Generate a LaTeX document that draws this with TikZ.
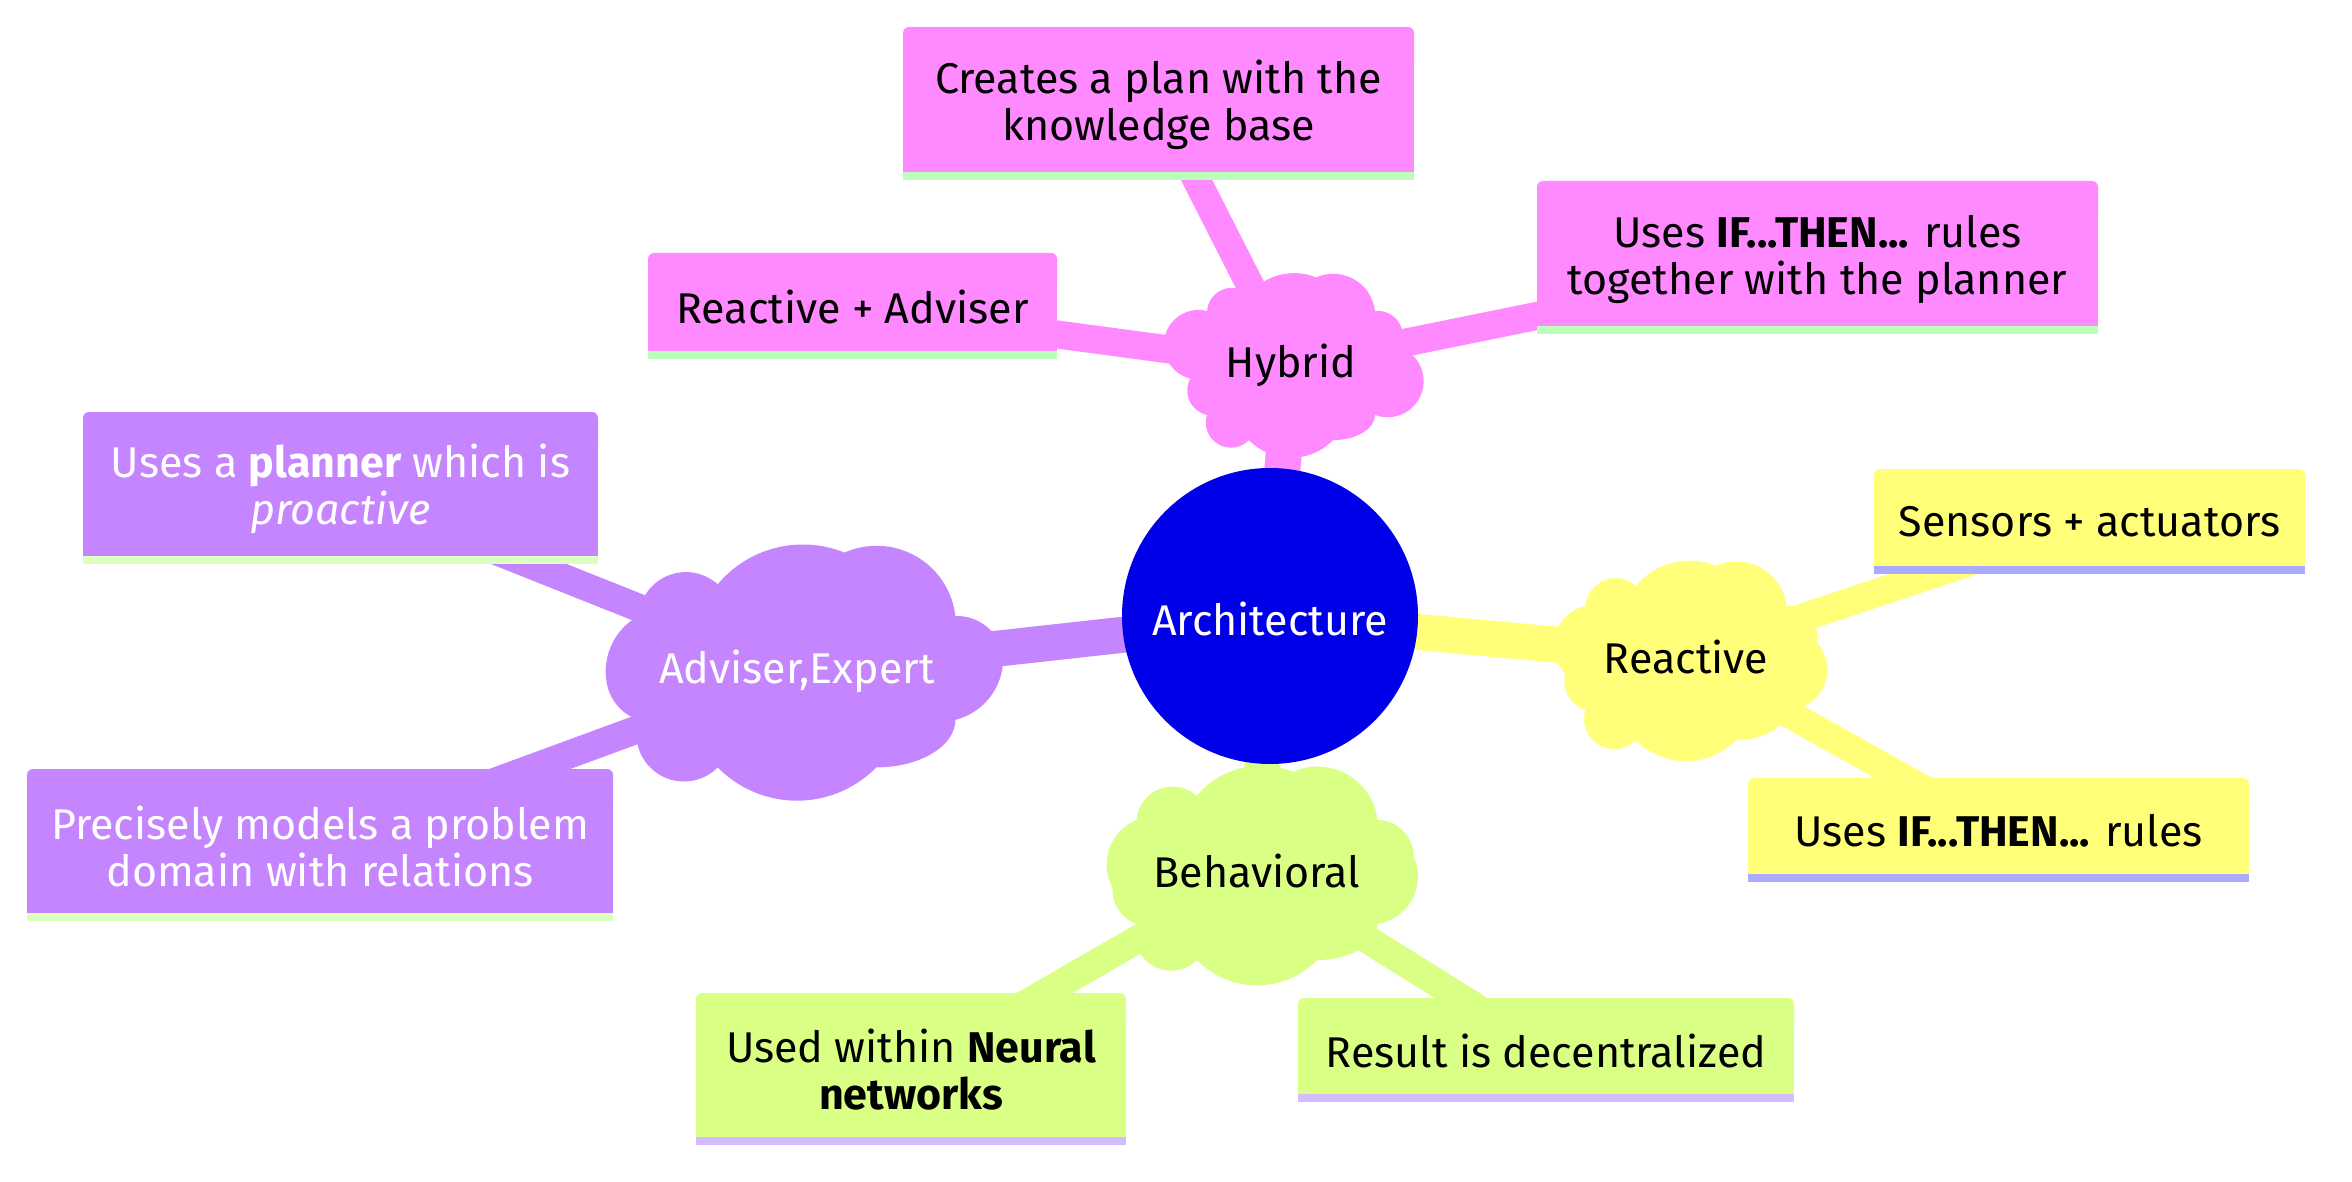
\documentclass[tikz,border=0pt]{standalone}
\usepackage{fontspec}
\setmainfont{Fira Sans}
\pgfdeclarelayer{edgelayer}
\pgfdeclarelayer{shapelayer}
\pgfsetlayers{edgelayer,shapelayer,main}
\definecolor{rootblue}{HTML}{0000E8}
\definecolor{purplec}{HTML}{C485FF}
\definecolor{pinkc}{HTML}{FF8AFF}
\definecolor{yellowc}{HTML}{FFFF7A}
\definecolor{greenc}{HTML}{DAFF85}
\definecolor{pinkstrip}{HTML}{BBFFBB}
\definecolor{purplestrip}{HTML}{DDFFC0}
\definecolor{yellowstrip}{HTML}{AAAAFF}
\definecolor{greenstrip}{HTML}{D5BBFF}
% one SVG-like arc (sweep clockwise, small arc), screen px coordinates
\newcommand\cldarc[6]{%
  \pgfmathsetmacro\clka{(#5)/(#6)}%
  \pgfmathsetmacro\clax{0.5*(#1)}%
  \pgfmathsetmacro\clay{-0.5*(#2)*\clka}%
  \pgfmathsetmacro\clbx{0.5*(#3)}%
  \pgfmathsetmacro\clby{-0.5*(#4)*\clka}%
  \pgfmathsetmacro\cldx{\clbx-\clax}%
  \pgfmathsetmacro\cldy{\clby-\clay}%
  \pgfmathsetmacro\clc{veclen(\cldx,\cldy)}%
  \pgfmathsetmacro\clr{max(0.5*(#5),0.5*\clc)}%
  \pgfmathsetmacro\clhalf{asin(min(1,\clc/(2*\clr)))}%
  \pgfmathsetmacro\cld{\clr*cos(\clhalf)}%
  \pgfmathsetmacro\clmx{(\clax+\clbx)/2+\cld*\cldy/\clc}%
  \pgfmathsetmacro\clmy{(\clay+\clby)/2-\cld*\cldx/\clc}%
  \pgfmathsetmacro\clsa{atan2(\clay-\clmy,\clax-\clmx)}%
  \pgfmathsetmacro\clea{\clsa-2*\clhalf}%
  \pgfmathsetmacro\clry{\clr/\clka}%
  \pgfpatharc{\clsa}{\clea}{\clr pt and \clry pt}%
}
% cloud: centre x, centre y, w, h, colour (screen px)
\newcommand\drawcloud[5]{%
  \begin{pgfscope}%
  \pgfmathsetmacro\clX{(#1)-(#3)/2}%
  \pgfmathsetmacro\clY{(#2)-(#4)/2}%
  \pgfmathsetmacro\clW{#3}%
  \pgfmathsetmacro\clH{#4}%
  \pgfmathsetmacro\clpx{0.5*\clX}%
  \pgfmathsetmacro\clpy{-0.5*\clY}%
  \pgfpathmoveto{\pgfpoint{\clpx pt}{\clpy pt}}%
  \cldarc{\clX}{\clY}{\clX+0.25*\clW}{\clY-0.1*\clW}{0.15*\clW}{0.15*\clW}%
  \cldarc{\clX+0.25*\clW}{\clY-0.1*\clW}{\clX+0.65*\clW}{\clY-0.2*\clW}{0.35*\clW}{0.35*\clW}%
  \cldarc{\clX+0.65*\clW}{\clY-0.2*\clW}{\clX+\clW}{\clY}{0.25*\clW}{0.25*\clW}%
  \cldarc{\clX+\clW}{\clY}{\clX+1.15*\clW}{\clY+0.35*\clH}{0.15*\clW}{0.15*\clW}%
  \cldarc{\clX+1.15*\clW}{\clY+0.35*\clH}{\clX+\clW}{\clY+\clH}{0.2*\clW}{0.2*\clW}%
  \cldarc{\clX+\clW}{\clY+\clH}{\clX+0.75*\clW}{\clY+\clH+0.15*\clW}{0.25*\clW}{0.15*\clW}%
  \cldarc{\clX+0.75*\clW}{\clY+\clH+0.15*\clW}{\clX+0.25*\clW}{\clY+\clH+0.15*\clW}{0.35*\clW}{0.35*\clW}%
  \cldarc{\clX+0.25*\clW}{\clY+\clH+0.15*\clW}{\clX}{\clY+\clH}{0.15*\clW}{0.15*\clW}%
  \cldarc{\clX}{\clY+\clH}{\clX-0.1*\clW}{\clY+0.65*\clH}{0.15*\clW}{0.15*\clW}%
  \cldarc{\clX-0.1*\clW}{\clY+0.65*\clH}{\clX}{\clY}{0.2*\clW}{0.2*\clW}%
  \pgfpathclose
  \pgfsetfillcolor{#5}%
  \pgfusepath{fill}%
  \end{pgfscope}}
% box: x1 y1 x2 y2 fill strip (screen px)
\newcommand\drawbox[6]{%
  \fill[#5, rounded corners=3pt] (#1,#2) rectangle (#3,{#2+40});
  \fill[#5] (#1,{#2+20}) rectangle (#3,#4);
  \fill[#6] (#1,#4) rectangle (#3,{#4+8});
}
\tikzset{
  lbl/.style={align=center, inner sep=0pt, font=\fontsize{21.5}{23.5}\selectfont, text=black},
  lblw/.style={lbl, text=white},
  rootedge/.style={line width=18pt},
  childedge/.style={line width=14pt},
}
\begin{document}
\begin{tikzpicture}[x=0.5pt,y=-0.5pt]
\useasboundingbox (0,0) rectangle (2352,1182);
% text nodes
\node[lblw, anchor=base] (root) at (1270,635) {Architecture};
\node[lbl, anchor=base] (hyb) at (1291,378) {Hybrid};
\node[lblw, anchor=base] (adv) at (797,683) {Adviser,Expert};
\node[lbl, anchor=base] (rea) at (1686,673) {Reactive};
\node[lbl, anchor=base] (beh) at (1257,887) {Behavioral};
\node[lbl] (p1) at (1158.5,105) {Creates a plan with the\\knowledge base};
\node[lbl] (p2) at (1817.5,259) {Uses \textbf{IF...THEN...} rules\\together with the planner};
\node[lbl] (p3) at (852.5,307) {Reactive + Adviser};
\node[lblw] (u1) at (340.5,489) {Uses a \textbf{planner} which is\\\textit{proactive}};
\node[lblw] (u2) at (320,846) {Precisely models a problem\\domain with relations};
\node[lbl] (y1) at (2089.5,522) {Sensors + actuators};
\node[lbl] (y2) at (1998.5,831) {Uses \textbf{IF...THEN...} rules};
\node[lbl] (g1) at (911,1070) {Used within \textbf{Neural}\\\textbf{networks}};
\node[lbl] (g2) at (1546,1051) {Result is decentralized};
% edges
\begin{pgfonlayer}{edgelayer}
\draw[rootedge, draw=pinkc] (root.center) -- (hyb.center);
\draw[rootedge, draw=purplec] (root.center) -- (adv.center);
\draw[rootedge, draw=yellowc] (root.center) -- (rea.center);
\draw[rootedge, draw=greenc] (root.center) -- (beh.center);
\draw[childedge, draw=pinkc] (hyb.center) -- (p1.center);
\draw[childedge, draw=pinkc] (hyb.center) -- (p2.center);
\draw[childedge, draw=pinkc] (hyb.center) -- (p3.center);
\draw[childedge, draw=purplec] (adv.center) -- (u1.center);
\draw[childedge, draw=purplec] (adv.center) -- (u2.center);
\draw[childedge, draw=yellowc] (rea.center) -- (y1.center);
\draw[childedge, draw=yellowc] (rea.center) -- (y2.center);
\draw[childedge, draw=greenc] (beh.center) -- (g1.center);
\draw[childedge, draw=greenc] (beh.center) -- (g2.center);
\end{pgfonlayer}
% shapes
\begin{pgfonlayer}{shapelayer}
\fill[rootblue] (1270,616) circle[radius=74pt];
\drawcloud{1291}{363}{168}{104}{pinkc}
\drawcloud{797}{668}{317}{104}{purplec}
\drawcloud{1686}{658}{201}{104}{yellowc}
\drawcloud{1257}{872}{241}{104}{greenc}
\drawbox{903}{27}{1414}{172}{pinkc}{pinkstrip}
\drawbox{1537}{181}{2098}{326}{pinkc}{pinkstrip}
\drawbox{648}{253}{1057}{351}{pinkc}{pinkstrip}
\drawbox{83}{412}{598}{556}{purplec}{purplestrip}
\drawbox{27}{769}{613}{913}{purplec}{purplestrip}
\drawbox{1874}{469}{2305}{566}{yellowc}{yellowstrip}
\drawbox{1748}{778}{2249}{874}{yellowc}{yellowstrip}
\drawbox{696}{993}{1126}{1137}{greenc}{greenstrip}
\drawbox{1298}{998}{1794}{1094}{greenc}{greenstrip}
\end{pgfonlayer}
\end{tikzpicture}
\end{document}
